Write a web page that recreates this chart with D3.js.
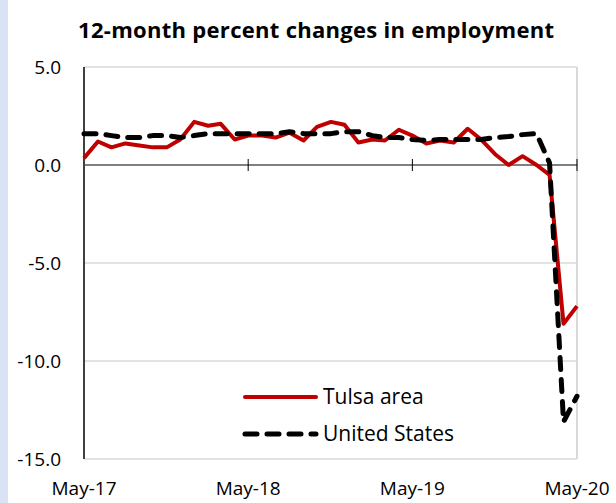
<!DOCTYPE html>
<html>
<head>
<meta charset="utf-8">
<script src="https://cdn.jsdelivr.net/npm/d3@7"></script>
<style>
  body { margin: 0; background: #fff; }
  svg { display: block; font-family: "Open Sans", sans-serif; }
</style>
</head>
<body>
<script>
// monthly, May-17 .. May-20
var months = d3.range(37).map(function (i) { return new Date(2017, 4 + i, 1); });
var tulsa = [0.35, 1.2, 0.9, 1.1, 1.0, 0.9, 0.9, 1.3, 2.2, 2.0, 2.1, 1.3,
  1.5, 1.5, 1.4, 1.65, 1.25, 1.95, 2.2, 2.05, 1.15, 1.3, 1.25, 1.8,
  1.5, 1.1, 1.25, 1.15, 1.85, 1.3, 0.55, 0.0, 0.45, 0.0, -0.5, -8.1, -7.2];
var us = [1.6, 1.6, 1.5, 1.4, 1.4, 1.5, 1.5, 1.4, 1.5, 1.6, 1.6, 1.6,
  1.6, 1.6, 1.6, 1.7, 1.6, 1.6, 1.6, 1.7, 1.7, 1.5, 1.4, 1.4,
  1.3, 1.25, 1.3, 1.3, 1.3, 1.3, 1.4, 1.45, 1.55, 1.6, 0.1, -13.1, -11.8];
var yTicks = [5, 0, -5, -10, -15];
var xTicks = [new Date(2017, 4, 1), new Date(2018, 4, 1), new Date(2019, 4, 1), new Date(2020, 4, 1)];
var seriesNames = ["Tulsa area", "United States"];

var W = 616, H = 503;
var margin = { top: 67, right: 39, bottom: 44, left: 84 },
  width = W - margin.left - margin.right,
  height = H - margin.top - margin.bottom;

var svg = d3.select("body").append("svg").attr("width", W).attr("height", H);

// light blue strip on the left edge
svg.append("rect").attr("x", 0).attr("y", 0).attr("width", 8).attr("height", H)
  .attr("fill", "#dae3f3");

svg.append("text")
  .attr("x", 316).attr("y", 38)
  .attr("text-anchor", "middle")
  .style("font-weight", "bold").style("font-size", "22px")
  .attr("textLength", 476).attr("lengthAdjust", "spacing")
  .text("12-month percent changes in employment");

var g = svg.append("g").attr("transform", "translate(" + margin.left + "," + margin.top + ")");

var x = d3.scaleTime().domain([months[0], months[months.length - 1]]).range([0, width]);
var y = d3.scaleLinear().domain([-15, 5]).range([height, 0]);

// gridlines + plot border
g.selectAll(".grid").data(yTicks.filter(function (d) { return d !== 0; }))
  .enter().append("line")
  .attr("x1", 0).attr("x2", width)
  .attr("y1", function (d) { return y(d); }).attr("y2", function (d) { return y(d); })
  .attr("stroke", "#d9d9d9").attr("stroke-width", 1.5);
g.append("line").attr("x1", width).attr("x2", width).attr("y1", 0).attr("y2", height)
  .attr("stroke", "#d9d9d9").attr("stroke-width", 2);

// y labels
g.selectAll(".ylab").data(yTicks).enter().append("text")
  .attr("x", -23).attr("y", function (d) { return y(d); }).attr("dy", "0.35em")
  .attr("text-anchor", "end").style("font-size", "19px").attr("fill", "#000")
  .text(function (d) { return d3.format(".1f")(d).replace("\u2212", "-"); });

// x labels
g.selectAll(".xlab").data(xTicks).enter().append("text")
  .attr("x", function (d) { return x(d); }).attr("y", height + 36)
  .attr("text-anchor", "middle").style("font-size", "19px")
  .text(d3.timeFormat("%b-%y"));

// zero line with ticks
g.append("line").attr("x1", 0).attr("x2", width).attr("y1", y(0)).attr("y2", y(0))
  .attr("stroke", "#000").attr("stroke-width", 1);
g.selectAll(".xtick").data(xTicks.slice(1)).enter().append("line")
  .attr("x1", function (d) { return x(d); }).attr("x2", function (d) { return x(d); })
  .attr("y1", y(0) - 6).attr("y2", y(0) + 6)
  .attr("stroke", "#000").attr("stroke-width", 1);

// y axis
g.append("line").attr("x1", 0).attr("x2", 0).attr("y1", 0).attr("y2", height)
  .attr("stroke", "#404040").attr("stroke-width", 2);

var line = d3.line().x(function (d, i) { return x(months[i]); }).y(function (d) { return y(d); });

g.append("path").datum(tulsa).attr("d", line)
  .attr("fill", "none").attr("stroke", "#c00000").attr("stroke-width", 4)
  .attr("stroke-linejoin", "round");
g.append("path").datum(us).attr("d", line)
  .attr("fill", "none").attr("stroke", "#000").attr("stroke-width", 5)
  .attr("stroke-dasharray", "12,10").attr("stroke-linecap", "round")
  .attr("stroke-linejoin", "round");

// legend
var leg = svg.append("g").attr("transform", "translate(245,397)");
seriesNames.forEach(function (name, i) {
  var row = leg.append("g").attr("transform", "translate(0," + (i * 37) + ")");
  var l = row.append("line").attr("x1", 0).attr("x2", 71).attr("y1", 0).attr("y2", 0)
    .attr("stroke-linecap", "round");
  if (i === 0) l.attr("stroke", "#c00000").attr("stroke-width", 4);
  else l.attr("stroke", "#000").attr("stroke-width", 5).attr("stroke-dasharray", "12,10");
  row.append("text").attr("x", 78).attr("y", 0).attr("dy", "0.35em")
    .style("font-size", "21px").text(name);
});
</script>
</body>
</html>
